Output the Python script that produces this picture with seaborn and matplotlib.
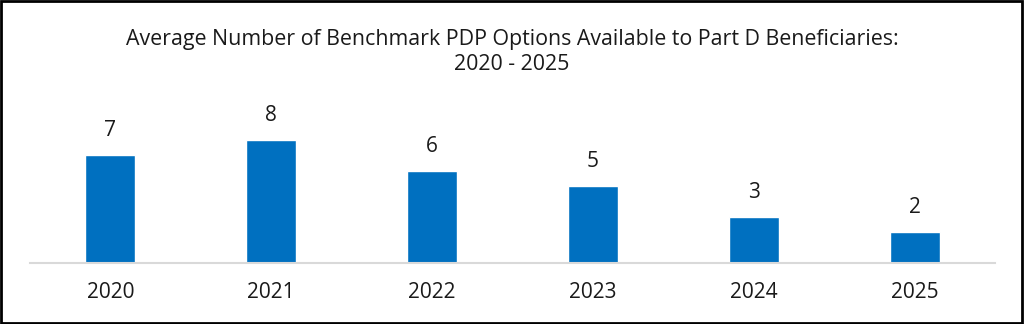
import matplotlib
matplotlib.use("Agg")
import matplotlib.pyplot as plt
import seaborn as sns
import pandas as pd
from matplotlib.patches import Rectangle

years = ["2020", "2021", "2022", "2023", "2024", "2025"]
options = [7, 8, 6, 5, 3, 2]
title_text = "Average Number of Benchmark PDP Options Available to Part D Beneficiaries:\n2020 - 2025"

sns.set_theme(style="white")
plt.rcParams['font.family'] = ['Open Sans', 'DejaVu Sans']

df = pd.DataFrame({"year": years, "options": options})

fig = plt.figure(figsize=(10.24, 3.24), dpi=100)
ax = fig.add_axes([30/1024, 1-263/324, 965/1024, 154/324])

sns.barplot(data=df, x="year", y="options", color="#0070C0", width=0.31,
            saturation=1, ax=ax)
ax.set_ylim(0, 10)
ax.set_xlim(-0.5, 5.5)
ax.set_xlabel("")
ax.set_ylabel("")
ax.set_yticks([])
for s in ["top", "right", "left"]:
    ax.spines[s].set_visible(False)
ax.spines["bottom"].set_color("#D9D9D9")
ax.spines["bottom"].set_linewidth(1.5)
ax.tick_params(axis="x", length=0, pad=14, labelsize=15, colors="#1a1a1a")

for c in ax.containers:
    ax.bar_label(c, labels=[str(v) for v in options], padding=10, fontsize=15, color="#1a1a1a")

fig.text(0.5, 1-52/324, title_text, ha="center", va="center", fontsize=15.4,
         color="#1a1a1a", linespacing=1.3)

fig.patches.append(Rectangle((0.001, 0.002), 0.997, 0.995, transform=fig.transFigure,
                             fill=False, edgecolor="black", linewidth=2))

fig.savefig("out.png", dpi=100)
